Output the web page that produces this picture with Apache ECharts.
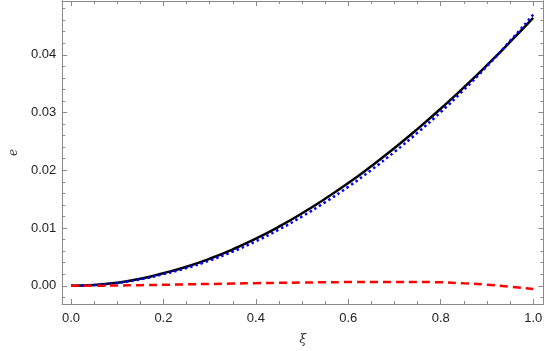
<!DOCTYPE html>
<html>
<head>
<meta charset="utf-8">
<script src="https://cdn.jsdelivr.net/npm/echarts@6/dist/echarts.min.js"></script>
<style>
  html, body { margin: 0; padding: 0; background: #fff; }
  #main { width: 545px; height: 351px; }
</style>
</head>
<body>
<div id="main"></div>
<script>
// xi values
var xi = [0, 0.05, 0.1, 0.15, 0.2, 0.25, 0.3, 0.35, 0.4, 0.45, 0.5,
          0.55, 0.6, 0.65, 0.7, 0.75, 0.8, 0.85, 0.9, 0.95, 1.0];
// black solid curve
var eExact = [0, 0.00013, 0.00053, 0.00120, 0.00218, 0.00330, 0.00468, 0.00630, 0.00815, 0.01024, 0.01255,
              0.01507, 0.01778, 0.02073, 0.02385, 0.02717, 0.03067, 0.03435, 0.03820, 0.04222, 0.04640];
// blue dotted curve
var eApprox = [0, 0.00012, 0.00049, 0.00110, 0.00201, 0.00306, 0.00437, 0.00592, 0.00770, 0.00974, 0.01199,
               0.01447, 0.01714, 0.02007, 0.02318, 0.02652, 0.03007, 0.03393, 0.03802, 0.04240, 0.04695];
// red dashed curve
var eDiff = [0, 0.00001, 0.00004, 0.00010, 0.00017, 0.00024, 0.00031, 0.00038, 0.00045, 0.00050, 0.00056,
             0.00060, 0.00064, 0.00066, 0.00067, 0.00065, 0.00060, 0.00042, 0.00018, -0.00018, -0.00055];

// ticks
var xMajor = [0, 0.2, 0.4, 0.6, 0.8, 1.0];
var xMinor = [0.05, 0.1, 0.15, 0.25, 0.3, 0.35, 0.45, 0.5, 0.55, 0.65, 0.7, 0.75, 0.85, 0.9, 0.95];
var yMajor = [0, 0.01, 0.02, 0.03, 0.04];
var yMinor = [-0.002, 0.002, 0.004, 0.006, 0.008, 0.012, 0.014, 0.016, 0.018, 0.022, 0.024, 0.026, 0.028,
              0.032, 0.034, 0.036, 0.038, 0.042, 0.044, 0.046, 0.048];

var frameColor = '#8a8a8a';
var xMin = -0.019, xMax = 1.0222;
var yMin = -0.00316, yMax = 0.04932;

function pairs(ys) {
  return xi.map(function (x, i) { return [x, ys[i]]; });
}

function xAx(pos, ticks, len, labels, name) {
  return {
    type: 'value', position: pos, min: xMin, max: xMax,
    name: name || '', nameLocation: 'middle', nameGap: 29,
    nameTextStyle: { fontFamily: 'DejaVu Serif', fontStyle: 'italic', fontSize: 13, color: '#333' },
    splitLine: { show: false },
    axisLine: { show: true, onZero: false, lineStyle: { color: frameColor, width: 1 } },
    axisTick: { show: true, inside: true, length: len, customValues: ticks, lineStyle: { color: frameColor } },
    axisLabel: labels ? {
      show: true, customValues: ticks, margin: 8, color: '#222',
      fontFamily: 'Liberation Sans', fontSize: 13,
      formatter: function (v) { return v.toFixed(1); }
    } : { show: false }
  };
}

function yAx(pos, ticks, len, labels, name) {
  return {
    type: 'value', position: pos, min: yMin, max: yMax,
    name: name || '', nameLocation: 'middle', nameGap: 42,
    nameTextStyle: { fontFamily: 'DejaVu Serif', fontStyle: 'italic', fontSize: 12, color: '#333' },
    splitLine: { show: false },
    axisLine: { show: true, onZero: false, lineStyle: { color: frameColor, width: 1 } },
    axisTick: { show: true, inside: true, length: len, customValues: ticks, lineStyle: { color: frameColor } },
    axisLabel: labels ? {
      show: true, customValues: ticks, margin: 6, color: '#222',
      fontFamily: 'Liberation Sans', fontSize: 13,
      formatter: function (v) { return v.toFixed(2); }
    } : { show: false }
  };
}

var myChart = echarts.init(document.getElementById('main'));
var option = {
  animation: false,
  backgroundColor: '#fff',
  grid: { left: 52, right: 1, top: 1, bottom: 46 },
  xAxis: [
    xAx('bottom', xMajor, 5, true, 'ξ'),
    xAx('bottom', xMinor, 3, false),
    xAx('top', xMajor, 5, false),
    xAx('top', xMinor, 3, false)
  ],
  yAxis: [
    yAx('left', yMajor, 5, true, 'e'),
    yAx('left', yMinor, 3, false),
    yAx('right', yMajor, 5, false),
    yAx('right', yMinor, 3, false)
  ],
  series: [
    {
      type: 'line', data: pairs(eExact), showSymbol: false, smooth: true,
      lineStyle: { color: '#000', width: 2.5 }
    },
    {
      type: 'line', data: pairs(eApprox), showSymbol: false, smooth: true,
      lineStyle: { color: '#0000ff', width: 2.5, type: [2.5, 3] }
    },
    {
      type: 'line', data: pairs(eDiff), showSymbol: false, smooth: true,
      lineStyle: { color: '#ff0000', width: 2.5, type: [8, 5] }
    }
  ]
};
myChart.setOption(option, true);
</script>
</body>
</html>
